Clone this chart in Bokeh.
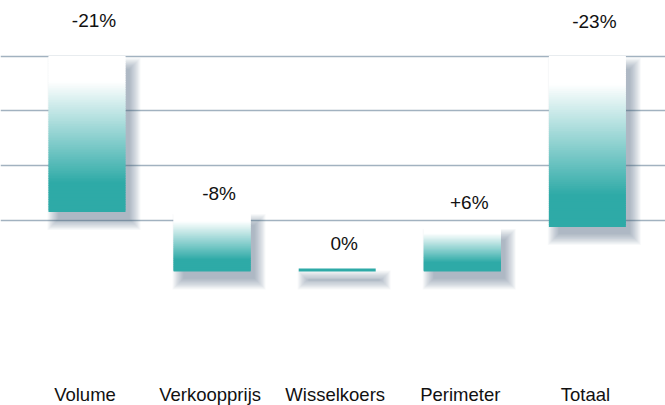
import numpy as np
from bokeh.plotting import figure
from bokeh.models import Range1d, FixedTicker, ColumnDataSource
from bokeh.embed import file_html
from bokeh.resources import INLINE
from bokeh.core.properties import value

# ---- data ----
categories = ["Volume", "Verkoopprijs", "Wisselkoers", "Perimeter", "Totaal"]
changes = [-21, -8, 0, 6, -23]            # % change per step
is_total = [False, False, False, False, True]
value_labels = ["-21%", "-8%", "0%", "+6%", "-23%"]
grid_levels = [0, -7.4, -14.8, -22.2]

# ---- styles ----
label_gap_px = [36, 19, 25, 24, 35]       # gap between bar top and value label anchor
TEAL = (46, 170, 167)
W, H = 665, 405
PX_X = 125.1      # px per category
PX_Y = 7.431      # px per percent
X0 = 1 - 86.5 / PX_X
Y_TOP = 55.5 / PX_Y
x_range = Range1d(X0, X0 + W / PX_X)
y_range = Range1d(Y_TOP - H / PX_Y, Y_TOP)
BAR_W = 77 / PX_X

# waterfall geometry
starts, ends = [], []
running = 0.0
for c, tot in zip(changes, is_total):
    if tot:
        starts.append(0.0); ends.append(float(c))
    else:
        starts.append(running); ends.append(running + c); running += c
xs = np.arange(1, len(categories) + 1)
tops = [max(s, e) for s, e in zip(starts, ends)]
bots = [min(s, e) for s, e in zip(starts, ends)]
min_h = 3 / PX_Y
tops = [t if t - b > min_h else b + min_h for t, b in zip(tops, bots)]

p = figure(width=W, height=H, x_range=x_range, y_range=y_range,
           output_backend="svg", toolbar_location=None, min_border=0)
p.outline_line_color = None
p.xaxis.visible = False
p.yaxis.visible = False
p.xgrid.visible = False
p.ygrid.ticker = FixedTicker(ticks=grid_levels)
p.ygrid.grid_line_color = "#a2b2c0"
p.ygrid.grid_line_width = 1.6

# shadows
sh = dict(left=[], right=[], top=[], bottom=[])
B = 14
blur = 11
dx, dy = 7, 10
for x, t, b in zip(xs, tops, bots):
    for k in range(B):
        e = blur * (1 - k / (B - 1)) - 3
        sh["left"].append(x - BAR_W / 2 + (dx - e) / PX_X)
        sh["right"].append(x + BAR_W / 2 + (dx + e) / PX_X)
        sh["top"].append(t - (dy - e) / PX_Y)
        sh["bottom"].append(b - (dy + e) / PX_Y)
p.quad(source=ColumnDataSource(sh), left="left", right="right", top="top",
       bottom="bottom", fill_color="#4f6680", fill_alpha=0.038, line_color=None)

# gradient bars
g = dict(left=[], right=[], top=[], bottom=[], color=[])
N = 90
ov = 1 / PX_Y
for x, t, b in zip(xs, tops, bots):
    h = t - b
    if h * PX_Y <= 4:
        g["left"].append(x - BAR_W / 2); g["right"].append(x + BAR_W / 2)
        g["top"].append(t); g["bottom"].append(b)
        g["color"].append("#%02x%02x%02x" % TEAL)
        continue
    for i in range(N):
        t0 = t - h * i / N
        t1 = t - h * (i + 1) / N
        tm = (i + 0.5) / N
        f = min(max((tm - 0.17) / (0.82 - 0.17), 0), 1)
        col = tuple(int(round(255 * (1 - f) + c * f)) for c in TEAL)
        g["left"].append(x - BAR_W / 2); g["right"].append(x + BAR_W / 2)
        g["top"].append(t0 + (ov if i > 0 else 0)); g["bottom"].append(t1)
        g["color"].append("#%02x%02x%02x" % col)
p.quad(source=ColumnDataSource(g), left="left", right="right", top="top",
       bottom="bottom", fill_color="color", line_color=None)

# value labels
lab_y = [t + gap / PX_Y for t, gap in zip(tops, label_gap_px)]
p.text(x=list(xs), y=lab_y, text=value_labels, x_offset=7,
       text_align="center", text_baseline="alphabetic",
       text_font=value("Liberation Sans"), text_font_size="19px",
       text_color="#111111")

# category labels
cat_y = Y_TOP - 394 / PX_Y
p.text(x=list(xs), y=[cat_y] * len(xs), text=categories, x_offset=-2,
       text_align="center", text_baseline="alphabetic",
       text_font=value("Liberation Sans"), text_font_size="18.5px",
       text_color="#111111")

open("out.html", "w").write(file_html(p, INLINE))
